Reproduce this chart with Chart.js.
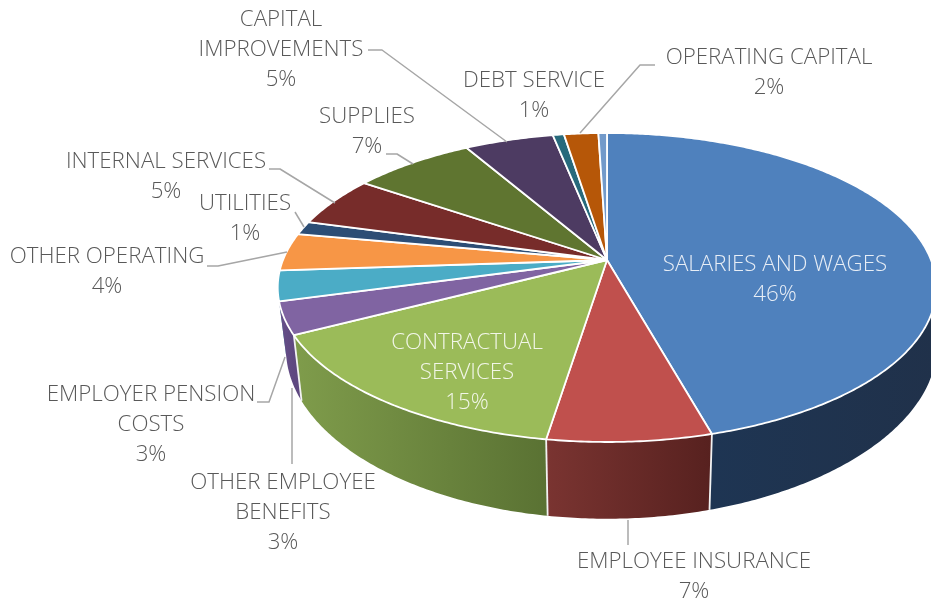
<!DOCTYPE html>
<html>
<head>
<meta charset="utf-8">
<script src="https://cdn.jsdelivr.net/npm/chart.js@4/dist/chart.umd.js"></script>
<style>
  html, body { margin: 0; padding: 0; background: #fff; overflow: hidden; }
  canvas { display: block; }
</style>
</head>
<body>
<canvas id="pie3d" width="931" height="602"></canvas>
<script>
// Values (share of the pie, in %)
const categories = ['SALARIES AND WAGES', 'EMPLOYEE INSURANCE', 'CONTRACTUAL\nSERVICES',
    'OTHER EMPLOYEE\nBENEFITS', 'EMPLOYER PENSION\nCOSTS', 'OTHER OPERATING', 'UTILITIES',
    'INTERNAL SERVICES', 'SUPPLIES', 'CAPITAL\nIMPROVEMENTS', 'DEBT SERVICE', 'OPERATING CAPITAL', ''];
const values = [45.7, 6.8, 14.9, 3.4, 3.15, 3.95, 1.4, 5.3, 7.1, 5.2, 0.65, 2.0, 0.5];
const percentLabels = ['46%', '7%', '15%', '3%', '3%', '4%', '1%', '5%', '7%', '5%', '1%', '2%', ''];

// Styles
const topColors = ['#4f81bd', '#c0504d', '#9bbb59', '#8064a2', '#4bacc6', '#f79646', '#2c4d75',
    '#772c2a', '#5f7530', '#4d3b62', '#276a7c', '#b65708', '#729aca'];
const wallFrom = ['#1e3553', '#7a3431', '#7f9c4b', '#67508a', '#3c8a9e', '#c67838', '#23405f',
    '#5f2422', '#4c5e26', '#3e2f4e', '#1f5563', '#924606', '#5b7ba2'];
const wallTo = ['#20314a', '#57211f', '#5a7233', '#5e4880', '#3c8a9e', '#c67838', '#23405f',
    '#5f2422', '#4c5e26', '#3e2f4e', '#1f5563', '#924606', '#5b7ba2'];

// Where each label sits: centre x, y of the first line, then its leader line
const labelLayout = [
    { x: 775, y: 265, color: '#e8eef6' },
    { x: 694, y: 562, leader: [[628, 520], [628, 545]] },
    { x: 467, y: 343, color: '#f2f6e8' },
    { x: 283, y: 483, leader: [[292, 388], [292, 464]] },
    { x: 151, y: 395, leader: [[257, 402], [269, 402], [285, 357]] },
    { x: 107, y: 257, leader: [[207, 266], [218, 266], [287, 252]] },
    { x: 245, y: 204, leader: [[295, 212], [304, 227]] },
    { x: 166, y: 162, leader: [[269, 169], [280, 169], [335, 203]] },
    { x: 367, y: 117, leader: [[386, 154], [397, 154], [413, 164]] },
    { x: 281, y: 20, leader: [[368, 50], [382, 50], [507, 142]] },
    { x: 534, y: 81 },
    { x: 769, y: 58, leader: [[655, 65], [640, 65], [580, 133]] },
    null
];

// Tilted view of the circle Chart.js lays out
const view = { sx: 324 / 260, sy: 149.6 / 260, persp: 0.178, lowSx: 316 / 260, lowSy: 165 / 260, lowDrop: 58, lowBulge: 9 };

function rim(arc, angle, low) {
    const u = Math.cos(angle), v = -Math.sin(angle);
    const f = 1 / (1 + view.persp * v);
    const R = arc.outerRadius;
    if (low) {
        // the far right of the lower edge sits a little wider
        const bulge = u > 0 ? view.lowBulge * u * u * u : 0;
        return [arc.x + view.lowSx * R * u * f + bulge, arc.y + view.lowDrop - view.lowSy * R * v * f];
    }
    return [arc.x + view.sx * R * u * f, arc.y - view.sy * R * v * f];
}

function samples(arc) {
    const out = [];
    const n = Math.max(2, Math.ceil((arc.endAngle - arc.startAngle) / 0.01));
    for (let i = 0; i <= n; i++) out.push(arc.startAngle + (arc.endAngle - arc.startAngle) * i / n);
    return out;
}

const pie3d = {
    id: 'pie3d',
    beforeDatasetsDraw(chart) {
        const ctx = chart.ctx;
        const arcs = chart.getDatasetMeta(0).data;

        // side wall, far slices first
        const order = arcs.map((a, i) => i).sort((p, q) => {
            const low = i => Math.max(...samples(arcs[i]).map(t => rim(arcs[i], t, true)[1]));
            return low(p) - low(q);
        });
        order.forEach(i => {
            const arc = arcs[i], angs = samples(arc);
            const front = angs.filter(t => Math.sin(t) > -0.1);
            const xs = (front.length ? front : angs).map(t => rim(arc, t, false)[0]);
            const grad = ctx.createLinearGradient(Math.min(...xs), 0, Math.max(...xs), 0);
            grad.addColorStop(0, wallFrom[i]);
            grad.addColorStop(1, wallTo[i]);
            ctx.beginPath();
            angs.forEach((t, k) => {
                const p = rim(arc, t, false);
                k ? ctx.lineTo(p[0], p[1]) : ctx.moveTo(p[0], p[1]);
            });
            angs.slice().reverse().forEach(t => {
                const p = rim(arc, t, true);
                ctx.lineTo(p[0], p[1]);
            });
            ctx.closePath();
            ctx.fillStyle = grad;
            ctx.fill();
        });

        // white seams between wall panels
        ctx.strokeStyle = '#f2f2f2';
        ctx.lineWidth = 1.8;
        arcs.forEach(arc => {
            if (Math.sin(arc.endAngle) < 0.45) return;
            const a = rim(arc, arc.endAngle, false), b = rim(arc, arc.endAngle, true);
            ctx.beginPath();
            ctx.moveTo(a[0], a[1]);
            ctx.lineTo(b[0], b[1]);
            ctx.stroke();
        });

        // top face
        arcs.forEach((arc, i) => {
            ctx.beginPath();
            ctx.moveTo(arc.x, arc.y);
            samples(arc).forEach(t => {
                const p = rim(arc, t, false);
                ctx.lineTo(p[0], p[1]);
            });
            ctx.closePath();
            ctx.fillStyle = topColors[i];
            ctx.fill();
            ctx.strokeStyle = '#ffffff';
            ctx.lineWidth = 1.8;
            ctx.lineJoin = 'round';
            ctx.stroke();
        });

        // leader lines
        ctx.strokeStyle = '#a6a6a6';
        ctx.lineWidth = 1.5;
        labelLayout.forEach(l => {
            if (!l || !l.leader) return;
            ctx.beginPath();
            l.leader.forEach((p, k) => k ? ctx.lineTo(p[0], p[1]) : ctx.moveTo(p[0], p[1]));
            ctx.stroke();
        });

        // labels
        ctx.font = '300 22.3px "Open Sans", sans-serif';
        ctx.textAlign = 'center';
        ctx.textBaseline = 'middle';
        labelLayout.forEach((l, i) => {
            if (!l) return;
            ctx.fillStyle = l.color || '#595959';
            const lines = categories[i].split('\n').concat(percentLabels[i]);
            lines.forEach((s, k) => ctx.fillText(s, l.x, l.y + k * 30));
        });
        return false;
    }
};

new Chart(document.getElementById('pie3d'), {
    type: 'pie',
    data: {
        labels: categories,
        datasets: [{ data: values, backgroundColor: topColors, borderWidth: 0 }]
    },
    options: {
        responsive: false,
        animation: false,
        layout: { padding: { left: 283, right: 0, top: 0, bottom: 82 } },
        plugins: { legend: { display: false }, tooltip: { enabled: false } }
    },
    plugins: [pie3d]
});
</script>
</body>
</html>
